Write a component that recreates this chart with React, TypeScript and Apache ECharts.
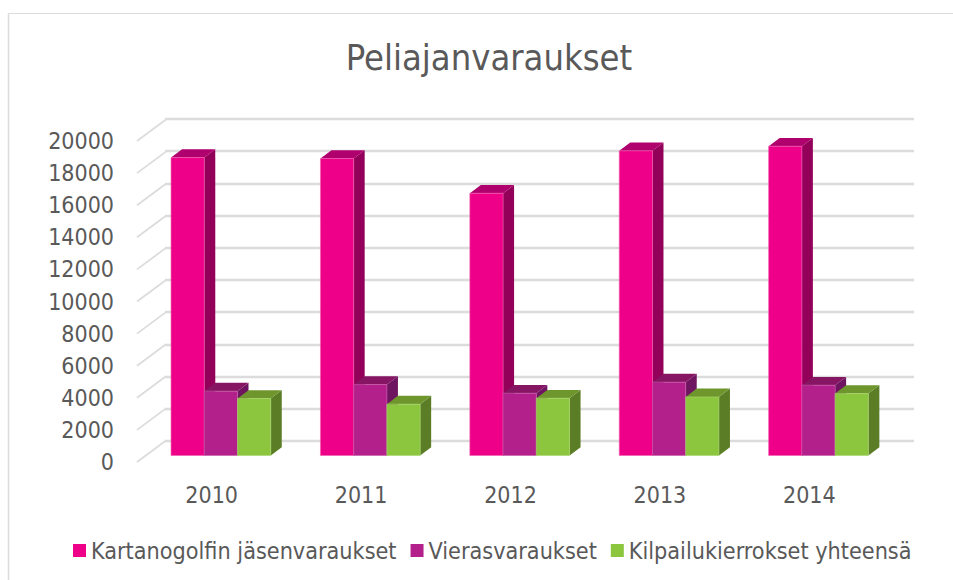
import React, { useEffect, useRef } from "react";
import * as echarts from "echarts";

const titleText = "Peliajanvaraukset";
const categories = ["2010", "2011", "2012", "2013", "2014"];
const memberBookings = [18560, 18500, 16340, 18980, 19270];
const guestBookings = [4010, 4420, 3880, 4570, 4380];
const competitionRounds = [3550, 3200, 3570, 3650, 3860];
const seriesNames = ["Kartanogolfin jäsenvaraukset", "Vierasvaraukset", "Kilpailukierrokset yhteensä"];
const valueTicks = [0, 2000, 4000, 6000, 8000, 10000, 12000, 14000, 16000, 18000, 20000];

const FONT = "'DejaVu Sans Condensed', 'DejaVu Sans', sans-serif";
const TEXT = "#595959";
const GRID = "#dcdcdc";
const palettes = [
  { front: "#ee0088", side: "#93005a", top: "#b0006e", edge: "#f45fb0" },
  { front: "#b3208c", side: "#6e1460", top: "#861664", edge: "#c75aa8" },
  { front: "#8cc63f", side: "#5a7d25", top: "#6e962d", edge: "#a8d56e" },
];

function bar3d(seriesIndex: number) {
  return (params: any, api: any) => {
    const cat = api.value(0);
    const val = api.value(1);
    const base = api.coord([cat, 0]);
    const top = api.coord([cat, val]);
    const band = api.size([1, 0])[0];
    const w = band * 0.2225;
    const ox = 9.2;
    const oy = -6.5;
    const dx = 11;
    const dy = -8.3;
    const x0 = base[0] + ox + (seriesIndex - 1.5) * w;
    const x1 = x0 + w;
    const yb = base[1] + oy;
    const yt = top[1] + oy;
    const p = palettes[seriesIndex];
    return {
      type: "group",
      children: [
        {
          type: "polygon",
          shape: { points: [[x1, yb], [x1 + dx, yb + dy], [x1 + dx, yt + dy], [x1, yt]] },
          style: { fill: p.side },
        },
        {
          type: "polygon",
          shape: { points: [[x0, yt], [x0 + dx, yt + dy], [x1 + dx, yt + dy], [x1, yt]] },
          style: { fill: p.top },
        },
        {
          type: "rect",
          shape: { x: x0, y: yt, width: w, height: yb - yt },
          style: { fill: p.front, stroke: p.edge, lineWidth: 0.6 },
        },
      ],
    };
  };
}

function depthTick(params: any, api: any) {
  const pt = api.coord([0, api.value(0)]);
  const x = params.coordSys.x;
  return {
    type: "line",
    shape: { x1: x, y1: pt[1], x2: x + 29, y2: pt[1] - 21.5 },
    style: { stroke: GRID, lineWidth: 1.8 },
  };
}

export default function App() {
  const ref = useRef<HTMLDivElement>(null);
  useEffect(() => {
    const chart = echarts.init(ref.current!, undefined, { renderer: "svg" });
    const values = [memberBookings, guestBookings, competitionRounds];
    chart.setOption({
      animation: false,
      backgroundColor: "#ffffff",
      title: {
        text: titleText,
        left: 484,
        top: 34,
        textAlign: "center",
        textStyle: { color: TEXT, fontFamily: FONT, fontSize: 36, fontWeight: "normal" },
      },
      legend: {
        data: seriesNames,
        left: 68,
        top: 534,
        icon: "rect",
        itemWidth: 13,
        itemHeight: 13,
        itemGap: 14,
        textStyle: { color: TEXT, fontFamily: FONT, fontSize: 23.2 },
      },
      grid: [
        { left: 137, top: 141, width: 747, height: 321 },
        { left: 165, top: 119, width: 749, height: 322 },
      ],
      xAxis: [
        {
          type: "category",
          gridIndex: 0,
          data: categories,
          axisLine: { show: false },
          axisTick: { show: false },
          axisLabel: { color: TEXT, fontFamily: FONT, fontSize: 23, margin: 21 },
        },
        { type: "category", gridIndex: 1, data: categories, show: false },
      ],
      yAxis: [
        {
          type: "value",
          gridIndex: 0,
          min: 0,
          max: 20000,
          interval: 2000,
          axisLine: { show: false },
          axisTick: { show: false },
          splitLine: { show: false },
          axisLabel: {
            color: TEXT,
            fontFamily: FONT,
            fontSize: 23,
            margin: 23,
            formatter: (v: number) => String(v),
          },
        },
        {
          type: "value",
          gridIndex: 1,
          min: 0,
          max: 20000,
          interval: 2000,
          axisLine: { show: false },
          axisTick: { show: false },
          axisLabel: { show: false },
          splitLine: { show: true, lineStyle: { color: GRID, width: 2.4 } },
        },
      ],
      graphic: [
        { type: "line", shape: { x1: 8.5, y1: 13.5, x2: 953, y2: 13.5 }, style: { stroke: GRID, lineWidth: 1 } },
        { type: "line", shape: { x1: 8.5, y1: 13.5, x2: 8.5, y2: 580 }, style: { stroke: GRID, lineWidth: 1.5 } },
      ],
      series: [
        {
          type: "custom",
          name: "ticks",
          xAxisIndex: 0,
          yAxisIndex: 0,
          silent: true,
          clip: false,
          z: 1,
          encode: { y: 0 },
          renderItem: depthTick,
          data: valueTicks.map((v) => [v]),
        },
        ...seriesNames.map((name, s) => ({
          type: "custom",
          name,
          xAxisIndex: 0,
          yAxisIndex: 0,
          clip: false,
          z: 2 + s,
          itemStyle: { color: palettes[s].front },
          encode: { x: 0, y: 1 },
          renderItem: bar3d(s),
          data: values[s].map((v, i) => [i, v]),
        })),
      ],
    });
    return () => chart.dispose();
  }, []);
  return <div ref={ref} style={{ position: "fixed", left: 0, top: 0, width: 953, height: 580 }} />;
}
